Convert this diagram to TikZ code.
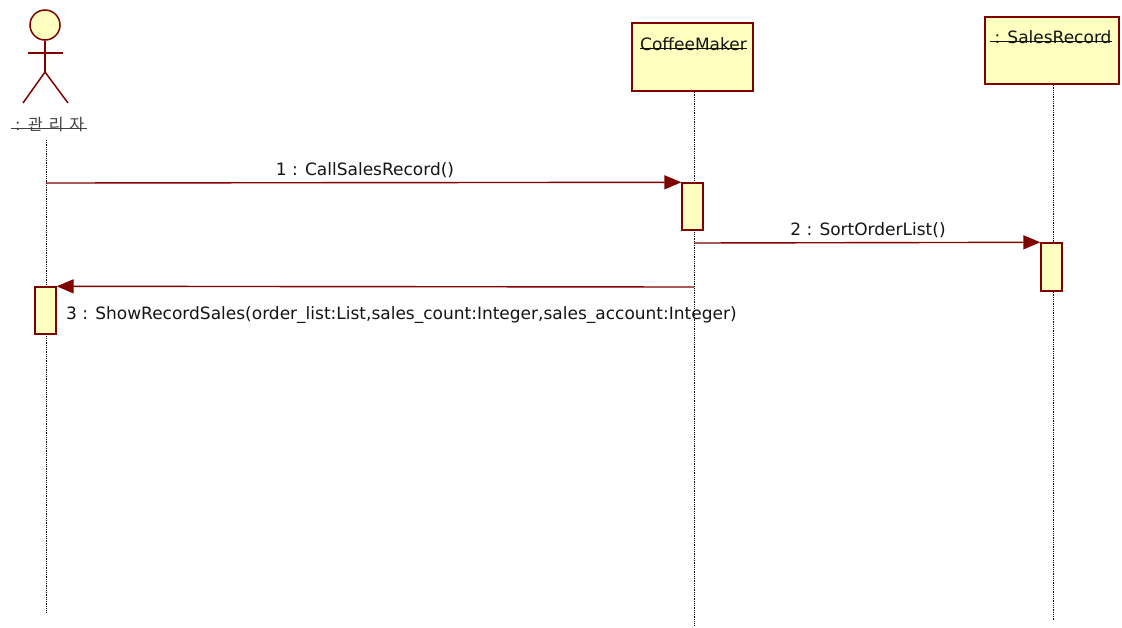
\documentclass[tikz,border=0pt]{standalone}
\usepackage{fontspec}
\setmainfont{DejaVu Sans}
\newfontfamily\krfont{Noto Sans CJK KR}
\usetikzlibrary{arrows.meta}
\definecolor{umlred}{RGB}{128,0,0}
\definecolor{umlfill}{RGB}{255,255,192}
\definecolor{txt}{RGB}{20,20,20}
\begin{document}
\begin{tikzpicture}[x=1pt,y=-1pt,
  objbox/.style={draw=umlred, fill=umlfill, line width=1.5pt, inner sep=0pt},
  lifeline/.style={densely dotted, black, line width=0.8pt},
  msg/.style={umlred, line width=1.4pt, -{Triangle[length=17pt,width=14pt]}},
  actbox/.style={draw=umlred, fill=umlfill, line width=1.4pt, inner sep=0pt, minimum width=21pt},
  lbl/.style={font=\fontsize{17}{20}\selectfont, text=txt, inner sep=0pt},
  strike/.style={txt, line width=0.8pt},
  stick/.style={umlred, line width=1.5pt}]
\useasboundingbox (0,0) rectangle (1122,627);
\fill[white] (0,0) rectangle (1122,627);

% actor
\node[circle, draw=umlred, fill=umlfill, line width=1.5pt, minimum size=30pt, inner sep=0pt] (head) at (45,25) {};
\coordinate (hip) at (45,72);
\coordinate (armL) at (28,53);
\coordinate (armR) at (63,53);
\coordinate (legL) at (23,103);
\coordinate (legR) at (68,103);
\draw[stick] (head.south) -- (hip);
\draw[stick] (armL) -- (armR);
\draw[stick] (legL) -- (hip) -- (legR);
\node[lbl, anchor=base, font=\krfont\fontsize{16}{18}\selectfont, text=black!75] (actlbl) at (50,130) {:\hspace{8pt}관\hspace{6pt}리\hspace{6pt}자};
\draw[strike, black!75] ([xshift=-4pt,yshift=2pt]actlbl.base west) -- ([xshift=2pt,yshift=2pt]actlbl.base east);

% objects
\node[objbox, minimum width=121pt, minimum height=68pt] (cm) at (692.5,57) {};
\node[lbl, anchor=base] (cmlbl) at (693.5,50) {CoffeeMaker};
\draw[strike] ([yshift=2pt]cmlbl.base west) -- ([yshift=2pt]cmlbl.base east);

\node[objbox, minimum width=134pt, minimum height=67pt] (sr) at (1052,50.5) {};
\node[lbl, anchor=base] (srlbl) at (1053,43) {: SalesRecord};
\draw[strike] ([xshift=-4pt,yshift=2pt]srlbl.base west) -- ([yshift=2pt]srlbl.base east);

% lifelines
\coordinate (alTop) at (46,140);
\coordinate (alBot) at (46,612);
\coordinate (cmBot) at (694,625);
\coordinate (srBot) at (1053,620);
\draw[lifeline] (alTop) -- (alBot);
\draw[lifeline] (cm.south -| cmBot) -- (cmBot);
\draw[lifeline] (sr.south -| srBot) -- (srBot);

% activations
\node[actbox, minimum height=47pt] (a1) at (692.5,206.5) {};
\node[actbox, minimum height=48pt] (a2) at (1051.5,267) {};
\node[actbox, minimum height=47pt] (a0) at (45.5,310.5) {};

% messages
\coordinate (m1s) at (46,183);
\coordinate (m2s) at (694,243);
\coordinate (m3s) at (694,287);
\draw[msg] (m1s) -- (a1.north west);
\draw[msg] (m2s) -- (a2.north west);
\draw[msg] (m3s) -- (a0.north east);

\node[lbl, anchor=base] (l1) at (365,175) {1 : CallSalesRecord()};
\node[lbl, anchor=base] (l2) at (868,235) {2 : SortOrderList()};
\node[lbl, anchor=base west] (l3) at (66,319) {3 : ShowRecordSales(order\_list:List,sales\_count:Integer,sales\_account:Integer)};
\end{tikzpicture}
\end{document}
